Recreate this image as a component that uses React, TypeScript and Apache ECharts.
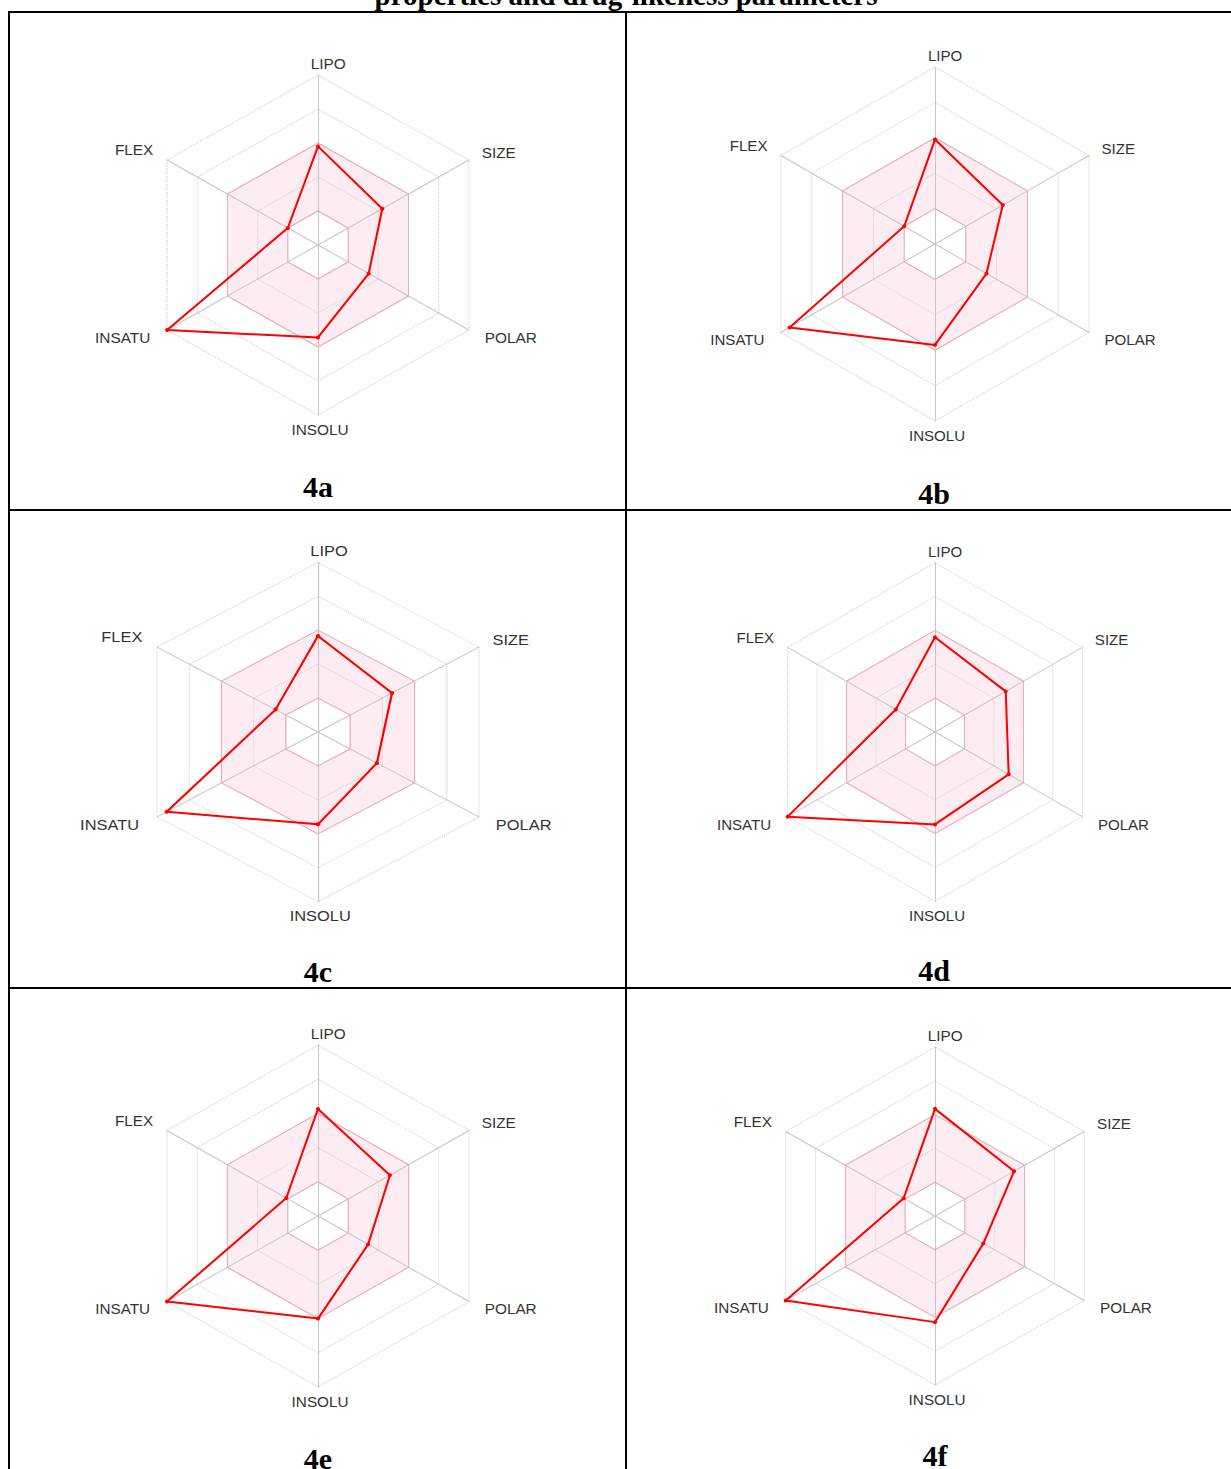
import React, { useEffect, useRef } from "react";
import * as echarts from "echarts";

// Radar axes, counter-clockwise from the top (ECharts order)
const AXES = ["LIPO", "FLEX", "INSATU", "INSOLU", "POLAR", "SIZE"];
const AXIS_MAX = 5;
const LEVELS = 5;
// optimal physicochemical range (pink band), same axis order
const RANGE_UPPER = [3, 3, 3, 3, 3, 3];
const RANGE_LOWER = [1, 1, 1, 1, 1, 1];

const TITLE = "properties and drug-likeness parameters";
const PANEL_LABELS = ["4a", "4b", "4c", "4d", "4e", "4f"];

// values per compound, order: LIPO, FLEX, INSATU, INSOLU, POLAR, SIZE
const V_4A = [2.9, 1.0, 5.0, 2.72, 1.68, 2.13];
const V_4B = [2.95, 1.0, 4.72, 2.85, 1.67, 2.2];
const V_4C = [2.83, 1.32, 4.7, 2.72, 1.83, 2.3];
const V_4D = [2.8, 1.33, 5.0, 2.73, 2.5, 2.4];
const V_4E = [3.13, 1.05, 5.0, 3.0, 1.66, 2.38];
const V_4F = [3.17, 1.05, 5.0, 3.14, 1.62, 2.65];
const VALUES = [V_4A, V_4B, V_4C, V_4D, V_4E, V_4F];

// layout (page pixels)
const PAGE_W = 1231;
const PAGE_H = 1469;
const PW = 560;
const PH = 440;
const GEOM = [
  { cx: 318.3, cy: 244.5, r: 170, sx: 1.025, lx: 318, ly: 486 },
  { cx: 935, cy: 244.2, r: 177, sx: 1.005, lx: 934, ly: 493 },
  { cx: 318.3, cy: 732, r: 169.7, sx: 1.095, lx: 318, ly: 971 },
  { cx: 935, cy: 731.7, r: 169.3, sx: 1.005, lx: 934, ly: 970 },
  { cx: 318, cy: 1215.5, r: 171, sx: 1.02, lx: 318, ly: 1458 },
  { cx: 935, cy: 1216, r: 169, sx: 1.02, lx: 935, ly: 1455 },
];

const PINK_FILL = "#fdedf2";
const PINK_LINE = "#ecaab8";
const LABEL_FONT = "'Liberation Sans', Arial, sans-serif";
const SERIF = "'Liberation Serif', 'Times New Roman', serif";

function nameStyle(padding: number[]) {
  return { padding, color: "#333", fontSize: 15, fontFamily: LABEL_FONT };
}

function RadarPanel({ idx }: { idx: number }) {
  const ref = useRef<HTMLDivElement>(null);
  const g = GEOM[idx];
  useEffect(() => {
    const chart = echarts.init(ref.current!, undefined, { renderer: "svg" });
    chart.setOption({
      animation: false,
      radar: {
        center: [PW / 2, PH / 2],
        radius: g.r,
        startAngle: 90,
        splitNumber: LEVELS,
        shape: "polygon",
        indicator: AXES.map((n) => ({ name: n, min: 0, max: AXIS_MAX })),
        axisNameGap: 4,
        axisName: {
          color: "#333",
          fontSize: 15,
          fontFamily: LABEL_FONT,
          formatter: (n: string) => `{${n}|${n}}`,
          rich: {
            LIPO: nameStyle([0, 0, 0, 20]),
            SIZE: nameStyle([0, 0, 11, 9]),
            POLAR: nameStyle([11, 0, 0, 12]),
            INSOLU: nameStyle([3, 0, 0, 4]),
            INSATU: nameStyle([11, 13, 0, 0]),
            FLEX: nameStyle([0, 10, 16, 0]),
          },
        },
        axisLine: { lineStyle: { color: "#c6c6c6", width: 1 } },
        axisTick: { show: false },
        axisLabel: { show: false },
        splitLine: { lineStyle: { color: "#cdcdcd", type: "dotted", width: 1 } },
        splitArea: {
          show: true,
          areaStyle: {
            color: ["rgba(0,0,0,0)", PINK_FILL, PINK_FILL, "rgba(0,0,0,0)", "rgba(0,0,0,0)"],
          },
        },
      },
      series: [
        {
          type: "radar",
          silent: true,
          data: [
            {
              value: RANGE_UPPER,
              symbol: "none",
              lineStyle: { color: PINK_LINE, width: 1 },
            },
            {
              value: RANGE_LOWER,
              symbol: "none",
              lineStyle: { color: PINK_LINE, width: 1 },
            },
            {
              value: VALUES[idx],
              symbol: "circle",
              symbolSize: 4,
              itemStyle: { color: "#ff0000" },
              lineStyle: { color: "#ff0000", width: 2 },
            },
          ],
        },
      ],
    });
    return () => chart.dispose();
  }, []);
  return (
    <div
      ref={ref}
      style={{
        position: "absolute",
        left: g.cx - PW / 2,
        top: g.cy - PH / 2,
        width: PW,
        height: PH,
        transform: `scaleX(${g.sx})`,
        transformOrigin: "50% 50%",
      }}
    />
  );
}

function Frame() {
  const ref = useRef<HTMLDivElement>(null);
  useEffect(() => {
    const chart = echarts.init(ref.current!, undefined, { renderer: "svg" });
    const line = (x1: number, y1: number, x2: number, y2: number) => ({
      type: "line",
      silent: true,
      shape: { x1, y1, x2, y2 },
      style: { stroke: "#000", lineWidth: 2 },
    });
    chart.setOption({
      animation: false,
      graphic: [
        {
          type: "text",
          x: 626,
          y: -5,
          style: {
            text: TITLE,
            fill: "#000",
            font: `bold 29px ${SERIF}`,
            align: "center",
            verticalAlign: "middle",
          },
        },
        line(8, 12, PAGE_W, 12),
        line(9, 11, 9, PAGE_H),
        line(626, 11, 626, PAGE_H),
        line(8, 510, PAGE_W, 510),
        line(8, 988, PAGE_W, 988),
        ...PANEL_LABELS.map((t, i) => ({
          type: "text",
          x: GEOM[i].lx,
          y: GEOM[i].ly,
          style: {
            text: t,
            fill: "#000",
            font: `bold 30px ${SERIF}`,
            align: "center",
            verticalAlign: "middle",
          },
        })),
      ],
    });
    return () => chart.dispose();
  }, []);
  return (
    <div
      ref={ref}
      style={{ position: "absolute", left: 0, top: 0, width: PAGE_W, height: PAGE_H }}
    />
  );
}

export default function App() {
  return (
    <div
      style={{
        position: "absolute",
        left: 0,
        top: 0,
        width: PAGE_W,
        height: PAGE_H,
        overflow: "hidden",
        background: "#fff",
      }}
    >
      <Frame />
      {GEOM.map((_, i) => (
        <RadarPanel key={i} idx={i} />
      ))}
    </div>
  );
}
